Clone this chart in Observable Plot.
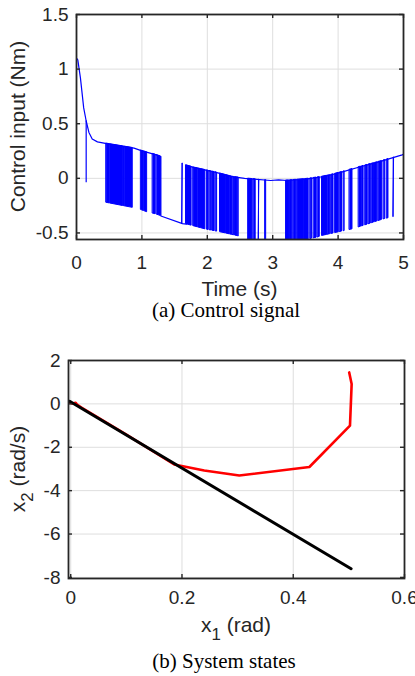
<!DOCTYPE html>
<html><head><meta charset="utf-8">
<script src="https://cdn.jsdelivr.net/npm/d3@7"></script>
<script src="https://cdn.jsdelivr.net/npm/@observablehq/plot@0.6"></script>
<style>
html,body{margin:0;padding:0;background:#fff}
body{width:415px;height:676px;overflow:hidden;position:relative;font-family:"Liberation Sans",Arial,sans-serif}
#top{position:absolute;left:0;top:0}
#bot{position:absolute;left:0;top:330px}
.cap{position:absolute;font-family:"Liberation Serif","Times New Roman",serif;font-size:21px;line-height:21px;color:#000;transform:translateX(-50%);white-space:nowrap}
</style></head><body>
<div id="top"></div>
<div class="cap" id="capA" style="left:226px;top:300px">(a) Control signal</div>
<div id="bot"></div>
<div class="cap" id="capB" style="left:224px;top:651px">(b) System states</div>
<script>
// ---------- tick labels ----------
const xTicksA = [0, 1, 2, 3, 4, 5];
const yTicksA = [-0.5, 0, 0.5, 1, 1.5];
const xTicksB = [0, 0.2, 0.4, 0.6];
const yTicksB = [-8, -6, -4, -2, 0, 2];

// ---------- (a) control signal ----------
// upper branch of the control input (Nm) vs time (s)
const upperT = [0, 0.02, 0.06, 0.11, 0.148, 0.19, 0.24, 0.32, 0.46, 0.67, 0.88, 1.0, 1.22, 1.29, 1.62, 1.68, 1.79, 2.13, 2.38, 2.57, 2.66, 2.97, 3.09, 3.22, 3.53, 3.73, 3.87, 4.04, 4.34, 4.65, 4.98, 5.0];
const upperV = [1.10, 1.085, 0.92, 0.645, 0.525, 0.42, 0.36, 0.334, 0.318, 0.297, 0.276, 0.252, 0.215, 0.20, 0.136, 0.12, 0.10, 0.055, 0.015, 0.0, -0.005, -0.02, -0.015, -0.02, -0.005, 0.012, 0.028, 0.055, 0.106, 0.155, 0.215, 0.22];
// lower branch
const lowerT = [0.46, 0.86, 0.99, 1.08, 1.22, 1.29, 1.62, 1.68, 1.97, 2.23, 2.47, 2.7, 3.0, 3.3, 3.5, 3.7, 3.76, 4.04, 4.22, 4.34, 4.7, 4.85, 5.0];
const lowerV = [-0.224, -0.27, -0.29, -0.31, -0.33, -0.345, -0.415, -0.42, -0.467, -0.497, -0.53, -0.575, -0.6, -0.59, -0.565, -0.54, -0.527, -0.49, -0.467, -0.445, -0.375, -0.355, -0.33];
// interval where the signal stays on the lower branch
const lowSpanStart = 1.29;
const lowSpanEnd = 1.68;
// chattering bursts (start / end time, s)
const chatterStart = [0.46, 0.515, 0.715, 0.735, 0.99, 1.035, 1.17, 1.23, 1.62, 1.68, 1.79, 1.86, 1.91, 2.00, 2.04, 2.08, 2.13, 2.20, 2.29, 2.35, 2.39, 2.43, 2.47, 2.63, 2.71, 2.79, 2.89, 3.21, 3.27, 3.32, 3.38, 3.50, 3.58, 3.63, 3.69, 3.76, 3.84, 3.90, 3.96, 4.03, 4.09, 4.18, 4.32, 4.37, 4.42, 4.47, 4.52, 4.57, 4.62, 4.70, 4.75, 4.85];
const chatterEnd   = [0.505, 0.705, 0.725, 0.86, 1.025, 1.08, 1.21, 1.29, 1.62, 1.76, 1.85, 1.90, 1.97, 2.02, 2.06, 2.11, 2.15, 2.28, 2.34, 2.38, 2.41, 2.46, 2.48, 2.69, 2.74, 2.79, 2.90, 3.25, 3.30, 3.36, 3.48, 3.55, 3.60, 3.67, 3.72, 3.83, 3.88, 3.93, 4.01, 4.06, 4.10, 4.22, 4.35, 4.39, 4.45, 4.50, 4.55, 4.60, 4.67, 4.72, 4.77, 4.85];
// isolated early spike
const spikeT = [0.148];
const spikeLow = [-0.04];

// ---------- (b) system states ----------
const redX = [0.5006, 0.505, 0.502, 0.429, 0.303, 0.24, 0.186, 0.10, 0.02, 0.012, 0.009, 0.003, -0.002];
const redY = [1.45, 0.92, -1.0, -2.91, -3.30, -3.07, -2.79, -1.42, -0.18, -0.05, 0.05, 0.02, 0.06];
const blackX = [-0.002, 0.504];
const blackY = [0.12, -7.6];

// ---------- styling ----------
const INK = "#262626", GRID = "#dedede", BLUE = "#0000ff";
const tickFont = 19, labelFont = 21;
const fmt = d => String(d);

function boxAxes(xt, yt, xPad) {
  return [
    Plot.gridX(xt, {stroke: GRID, strokeOpacity: 1, strokeWidth: 1}),
    Plot.gridY(yt, {stroke: GRID, strokeOpacity: 1, strokeWidth: 1}),
    Plot.axisX(xt, {tickSize: 0, tickPadding: xPad, tickFormat: fmt, label: null, fill: INK}),
    Plot.axisY(yt, {tickSize: 0, tickPadding: 8, tickFormat: fmt, label: null, fill: INK})
  ];
}
function boxTicks(xt, yt, innerW, innerH) {
  const L = 4;
  return [
    Plot.tickX(xt, {x: d => d, insetTop: innerH - L, stroke: INK, strokeWidth: 1.4}),
    Plot.tickX(xt, {x: d => d, insetBottom: innerH - L, stroke: INK, strokeWidth: 1.4}),
    Plot.tickY(yt, {y: d => d, insetRight: innerW - L, stroke: INK, strokeWidth: 1.4}),
    Plot.tickY(yt, {y: d => d, insetLeft: innerW - L, stroke: INK, strokeWidth: 1.4}),
    Plot.frame({stroke: INK, strokeWidth: 1.8})
  ];
}

// ----- chart A -----
const up = d3.scaleLinear().domain(upperT).range(upperV);
const lo = d3.scaleLinear().domain(lowerT).range(lowerV).clamp(true);

const sig = [];
upperT.forEach((t, i) => { if (t <= lowSpanStart) sig.push({t, u: upperV[i]}); });
lowerT.forEach((t, i) => { if (t >= lowSpanStart && t <= lowSpanEnd) sig.push({t, u: lowerV[i]}); });
upperT.forEach((t, i) => { if (t >= lowSpanEnd) sig.push({t, u: upperV[i]}); });

const blockRows = chatterStart.flatMap((s, i) => {
  const e = chatterEnd[i];
  return [{id: i, t: s, lo: lo(s), hi: up(s)}, {id: i, t: e, lo: lo(e), hi: up(e)}];
});
const spikes = spikeT.map((t, i) => ({t, hi: up(t), lo: spikeLow[i]}));

const WA = 415, HA = 305, mlA = 76, mrA = 12, mtA = 14, mbA = 66;
const iwA = WA - mlA - mrA, ihA = HA - mtA - mbA;
const chartA = Plot.plot({
  width: WA, height: HA,
  marginLeft: mlA, marginRight: mrA, marginTop: mtA, marginBottom: mbA,
  style: {fontFamily: "'Liberation Sans', Arial, sans-serif", fontSize: tickFont + "px", color: INK, background: "white", overflow: "visible"},
  x: {domain: [0, 5]},
  y: {domain: [-0.56, 1.5]},
  marks: [
    ...boxAxes(xTicksA, yTicksA, 16),
    Plot.areaY(blockRows, {x: "t", y1: "lo", y2: "hi", z: "id", fill: BLUE, stroke: BLUE, strokeWidth: 1, clip: true}),
    Plot.ruleX(spikes, {x: "t", y1: "lo", y2: "hi", stroke: BLUE, strokeWidth: 1.2, clip: true}),
    Plot.line(sig, {x: "t", y: "u", stroke: BLUE, strokeWidth: 1.2, clip: true}),
    ...boxTicks(xTicksA, yTicksA, iwA, ihA)
  ]
});
document.getElementById("top").appendChild(chartA);
{
  const s = d3.select(chartA);
  s.append("text").attr("x", mlA + iwA / 2).attr("y", 296).attr("text-anchor", "middle")
    .attr("font-size", labelFont).attr("fill", INK).text("Time (s)");
  s.append("text").attr("transform", `translate(25,${mtA + ihA / 2}) rotate(-90)`).attr("text-anchor", "middle")
    .attr("font-size", labelFont).attr("fill", INK).text("Control input (Nm)");
}

// ----- chart B -----
const WB = 415, HB = 320, mlB = 68, mrB = 11, mtB = 30, mbB = 72;
const iwB = WB - mlB - mrB, ihB = HB - mtB - mbB;
const red = redX.map((x, i) => ({x, y: redY[i]}));
const black = blackX.map((x, i) => ({x, y: blackY[i]}));
const chartB = Plot.plot({
  width: WB, height: HB,
  marginLeft: mlB, marginRight: mrB, marginTop: mtB, marginBottom: mbB,
  style: {fontFamily: "'Liberation Sans', Arial, sans-serif", fontSize: tickFont + "px", color: INK, background: "white", overflow: "visible"},
  x: {domain: [-0.004, 0.6]},
  y: {domain: [-8.05, 2]},
  marks: [
    ...boxAxes(xTicksB, yTicksB, 12),
    Plot.line(red, {x: "x", y: "y", stroke: "#ff0000", strokeWidth: 2.6, strokeLinejoin: "round", clip: true}),
    Plot.line(black, {x: "x", y: "y", stroke: "#000000", strokeWidth: 3, strokeLinecap: "round", clip: true}),
    ...boxTicks(xTicksB, yTicksB, iwB, ihB)
  ]
});
document.getElementById("bot").appendChild(chartB);
{
  const s = d3.select(chartB);
  const t1 = s.append("text").attr("x", mlB + iwB / 2).attr("y", 302).attr("text-anchor", "middle")
    .attr("font-size", labelFont).attr("fill", INK);
  t1.append("tspan").text("x");
  t1.append("tspan").attr("dy", 8).attr("font-size", labelFont * 0.8).text("1");
  t1.append("tspan").attr("dy", -8).text(" (rad)");
  const t2 = s.append("text").attr("transform", `translate(25,${mtB + ihB / 2}) rotate(-90)`).attr("text-anchor", "middle")
    .attr("font-size", labelFont).attr("fill", INK);
  t2.append("tspan").text("x");
  t2.append("tspan").attr("dy", 8).attr("font-size", labelFont * 0.8).text("2");
  t2.append("tspan").attr("dy", -8).text(" (rad/s)");
}
</script>
</body></html>
